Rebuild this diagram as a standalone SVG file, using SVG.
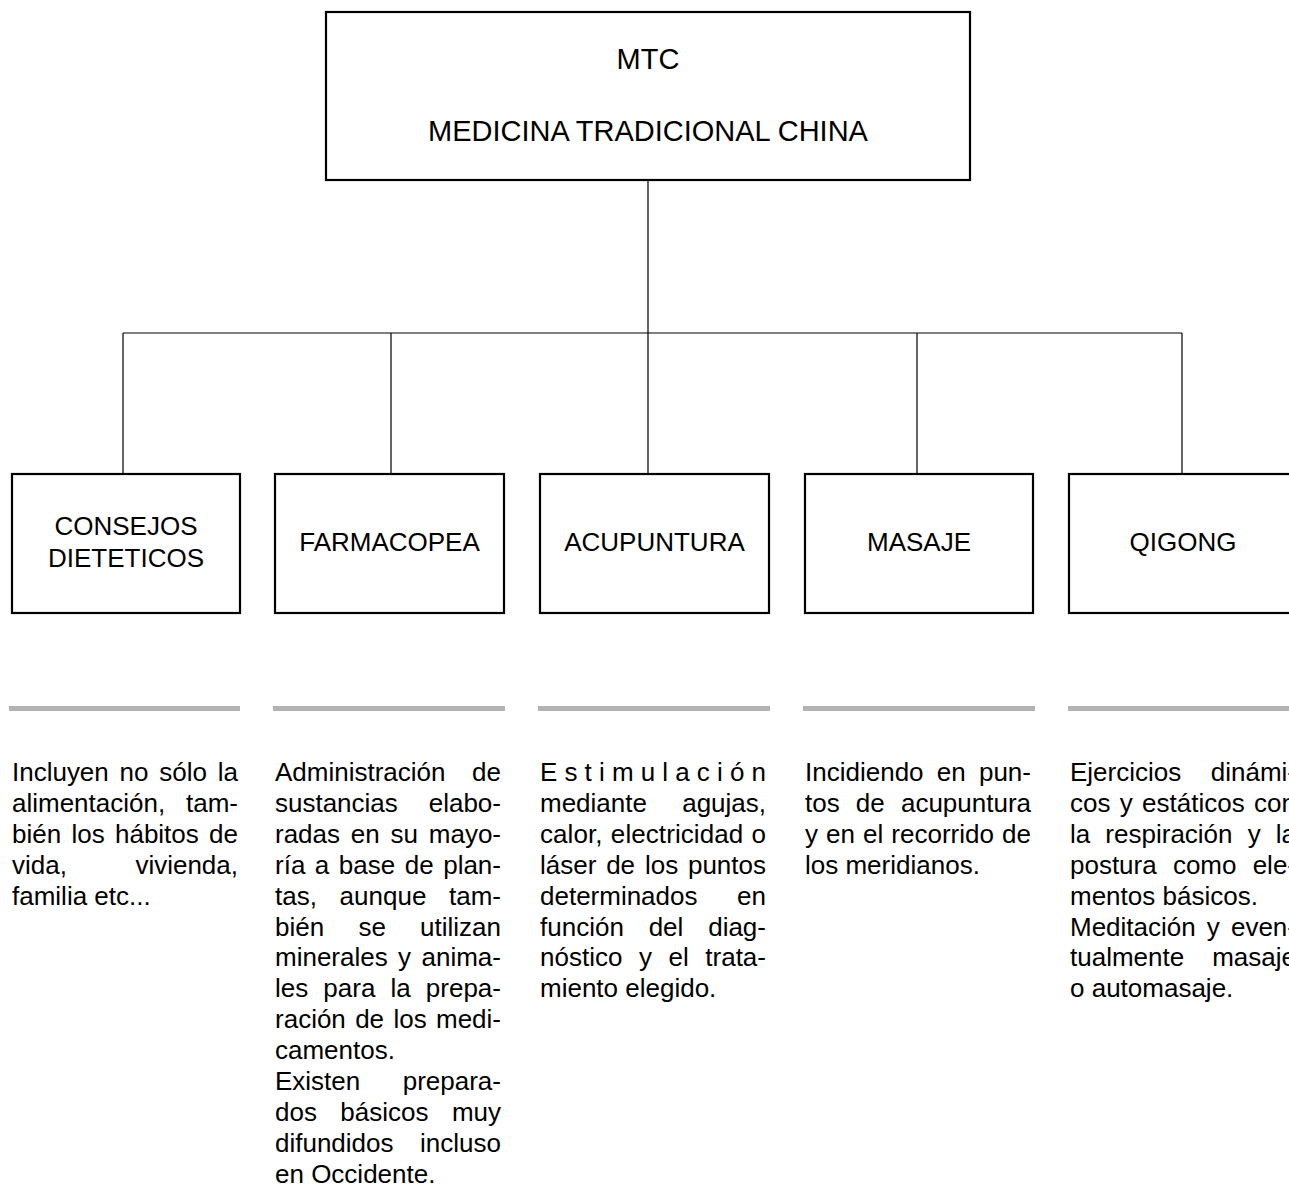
<svg xmlns="http://www.w3.org/2000/svg" width="1289" height="1196" viewBox="0 0 1289 1196">
<style>
.box{fill:#fff;stroke:#000;stroke-width:2.2}
.conn{fill:none;stroke:#000;stroke-width:1.2}
.bar{fill:#b3b3b3}
text{font-family:"Liberation Sans",Arial,sans-serif;fill:#000}
.title{font-size:29px;text-anchor:middle}
.lbl{font-size:26px;text-anchor:middle}
.body{font-size:26px}
</style>
<rect width="1289" height="1196" fill="#fff"/>
<g id="connectors">
<path class="conn" d="M648,181 V333 M123,333 H1182 M123,333 V474 M391,333 V474 M648,333 V474 M917,333 V474 M1182,333 V474"/>
</g>
<g id="node-mtc">
<rect class="box" x="326" y="12" width="644" height="168"/>
<text class="title" x="648" y="69">MTC</text>
<text class="title" x="648" y="141">MEDICINA TRADICIONAL CHINA</text>
</g>
<g id="node-consejos">
<rect class="box" x="12" y="474" width="228" height="139"/>
<text class="lbl" x="126" y="535">CONSEJOS</text>
<text class="lbl" x="126" y="567">DIETETICOS</text>
</g>
<g id="node-farmacopea">
<rect class="box" x="275" y="474" width="229" height="139"/>
<text class="lbl" x="389.5" y="551">FARMACOPEA</text>
</g>
<g id="node-acupuntura">
<rect class="box" x="540" y="474" width="229" height="139"/>
<text class="lbl" x="654.5" y="551">ACUPUNTURA</text>
</g>
<g id="node-masaje">
<rect class="box" x="805" y="474" width="228" height="139"/>
<text class="lbl" x="919" y="551">MASAJE</text>
</g>
<g id="node-qigong">
<rect class="box" x="1069" y="474" width="228" height="139"/>
<text class="lbl" x="1183" y="551">QIGONG</text>
</g>
<g id="bars">
<rect class="bar" x="9" y="706" width="231" height="5"/>
<rect class="bar" x="273" y="706" width="232" height="5"/>
<rect class="bar" x="538" y="706" width="232" height="5"/>
<rect class="bar" x="803" y="706" width="232" height="5"/>
<rect class="bar" x="1068" y="706" width="232" height="5"/>
</g>
<g id="desc-consejos" class="body">
<text class="body" x="12" y="781" word-spacing="3.6" textLength="226" lengthAdjust="spacing">Incluyen no sólo la</text>
<text class="body" x="12" y="811.9" word-spacing="13.6" textLength="226" lengthAdjust="spacing">alimentación, tam-</text>
<text class="body" x="12" y="842.8" word-spacing="3.1" textLength="226" lengthAdjust="spacing">bién los hábitos de</text>
<text class="body" x="12" y="873.7" word-spacing="61.3" textLength="226" lengthAdjust="spacing">vida, vivienda,</text>
<text class="body" x="12" y="904.6">familia etc...</text>
</g>
<g id="desc-farmacopea">
<text class="body" x="275" y="781" word-spacing="19.4" textLength="226" lengthAdjust="spacing">Administración de</text>
<text class="body" x="275" y="811.9" word-spacing="23.7" textLength="226" lengthAdjust="spacing">sustancias elabo-</text>
<text class="body" x="275" y="842.8" word-spacing="3.6" textLength="226" lengthAdjust="spacing">radas en su mayo-</text>
<text class="body" x="275" y="873.7" word-spacing="2.3" textLength="226" lengthAdjust="spacing">ría a base de plan-</text>
<text class="body" x="275" y="904.6" word-spacing="15.4" textLength="226" lengthAdjust="spacing">tas, aunque tam-</text>
<text class="body" x="275" y="935.5" word-spacing="27" textLength="226" lengthAdjust="spacing">bién se utilizan</text>
<text class="body" x="275" y="966.4" word-spacing="3.2" textLength="226" lengthAdjust="spacing">minerales y anima-</text>
<text class="body" x="275" y="997.3" word-spacing="7.9" textLength="226" lengthAdjust="spacing">les para la prepa-</text>
<text class="body" x="275" y="1028.2" word-spacing="2.1" textLength="226" lengthAdjust="spacing">ración de los medi-</text>
<text class="body" x="275" y="1059.1">camentos.</text>
<text class="body" x="275" y="1090" word-spacing="35.3" textLength="226" lengthAdjust="spacing">Existen prepara-</text>
<text class="body" x="275" y="1120.9" word-spacing="16.2" textLength="226" lengthAdjust="spacing">dos básicos muy</text>
<text class="body" x="275" y="1151.8" word-spacing="19.4" textLength="226" lengthAdjust="spacing">difundidos incluso</text>
<text class="body" x="275" y="1182.7">en Occidente.</text>
</g>
<g id="desc-acupuntura">
<text class="body" x="540" y="781" textLength="226" lengthAdjust="spacing">Estimulación</text>
<text class="body" x="540" y="811.9" word-spacing="28" textLength="226" lengthAdjust="spacing">mediante agujas,</text>
<text class="body" x="540" y="842.8" word-spacing="1" textLength="226" lengthAdjust="spacing">calor, electricidad o</text>
<text class="body" x="540" y="873.7" word-spacing="2.6" textLength="226" lengthAdjust="spacing">láser de los puntos</text>
<text class="body" x="540" y="904.6" word-spacing="32.4" textLength="226" lengthAdjust="spacing">determinados en</text>
<text class="body" x="540" y="935.5" word-spacing="17.6" textLength="226" lengthAdjust="spacing">función del diag-</text>
<text class="body" x="540" y="966.4" word-spacing="9.3" textLength="226" lengthAdjust="spacing">nóstico y el trata-</text>
<text class="body" x="540" y="997.3">miento elegido.</text>
</g>
<g id="desc-masaje">
<text class="body" x="805" y="781" word-spacing="6" textLength="226" lengthAdjust="spacing">Incidiendo en pun-</text>
<text class="body" x="805" y="811.9" word-spacing="9" textLength="226" lengthAdjust="spacing">tos de acupuntura</text>
<text class="body" x="805" y="842.8" word-spacing="0.7" textLength="226" lengthAdjust="spacing">y en el recorrido de</text>
<text class="body" x="805" y="873.7">los meridianos.</text>
</g>
<g id="desc-qigong">
<text class="body" x="1070" y="781" word-spacing="22.3" textLength="226" lengthAdjust="spacing">Ejercicios dinámi-</text>
<text class="body" x="1070" y="811.9" word-spacing="2.1" textLength="226" lengthAdjust="spacing">cos y estáticos con</text>
<text class="body" x="1070" y="842.8" word-spacing="7.9" textLength="226" lengthAdjust="spacing">la respiración y la</text>
<text class="body" x="1070" y="873.7" word-spacing="9" textLength="226" lengthAdjust="spacing">postura como ele-</text>
<text class="body" x="1070" y="904.6">mentos básicos.</text>
<text class="body" x="1070" y="935.5" word-spacing="3.9" textLength="226" lengthAdjust="spacing">Meditación y even-</text>
<text class="body" x="1070" y="966.4" word-spacing="20.8" textLength="226" lengthAdjust="spacing">tualmente masaje</text>
<text class="body" x="1070" y="997.3">o automasaje.</text>
</g>
</svg>
